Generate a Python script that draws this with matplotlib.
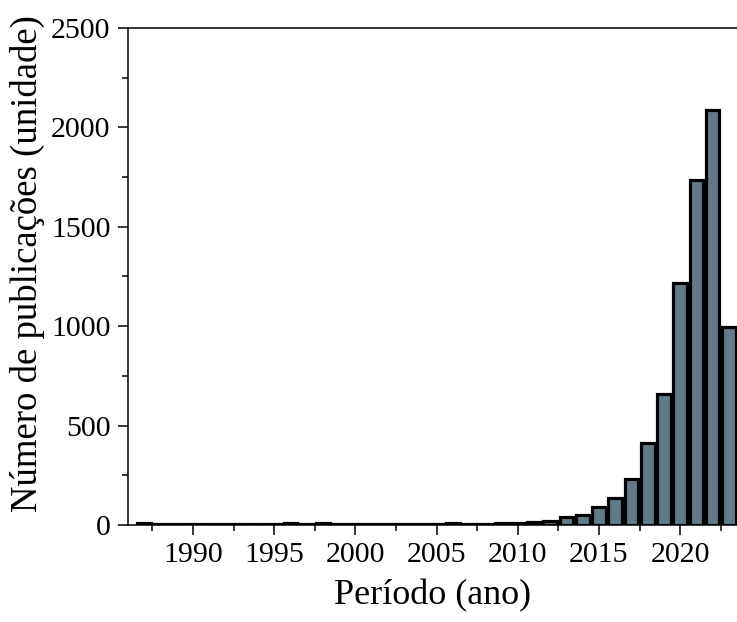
import numpy as np
import matplotlib.pyplot as plt
from matplotlib.ticker import MultipleLocator

# Dados
anos = np.arange(1987, 2024)
publicacoes = [8, 3, 3, 3, 7, 7, 7, 5, 6, 12, 7, 12, 7, 3, 6, 6, 6, 6, 3, 10,
               6, 6, 8, 12, 15, 22, 39, 50, 92, 137, 231, 414, 659, 1215, 1735,
               2085, 995]

plt.rcParams['font.family'] = ['Liberation Serif', 'DejaVu Serif']

fig = plt.figure(figsize=(7.37, 6.22), dpi=100)
ax = fig.add_axes([0.1737, 0.156, 0.8263, 0.799])

ax.bar(anos, publicacoes, width=0.84, color='#637a8b', edgecolor='black', linewidth=2.3)

ax.set_xlim(1986, 2023.5)
ax.set_ylim(0, 2500)
ax.xaxis.set_major_locator(MultipleLocator(5))
ax.xaxis.set_minor_locator(MultipleLocator(2.5))
ax.yaxis.set_major_locator(MultipleLocator(500))
ax.yaxis.set_minor_locator(MultipleLocator(250))

ax.spines['right'].set_visible(False)
for s in ['left', 'bottom', 'top']:
    ax.spines[s].set_linewidth(1.1)

ax.tick_params(which='major', direction='out', length=7.5, width=1.1, labelsize=21.5, pad=5)
ax.tick_params(which='minor', direction='out', length=4, width=1.1)
ax.tick_params(top=False, which='both')

ax.set_xlabel('Período (ano)', fontsize=26, labelpad=8)
ax.set_ylabel('Número de publicações (unidade)', fontsize=26.5)
ax.yaxis.set_label_coords(-0.137, 0.525)

plt.savefig('out.png', dpi=100)
